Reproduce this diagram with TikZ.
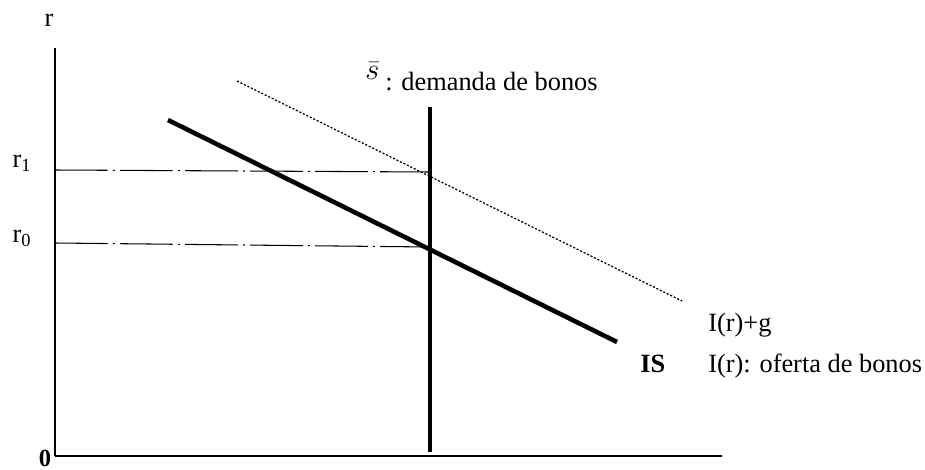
\documentclass[tikz,border=0pt]{standalone}
\usepackage{fontspec}
\setmainfont{Liberation Serif}

\tikzset{
    yaxis/.style={line width=0.6pt},
    xaxis/.style={line width=1.1pt},
    levelline/.style={line width=0.6pt, dash pattern=on 30pt off 3pt on 1pt off 3pt},
    demandline/.style={line width=1.8pt},
    isline/.style={line width=2.6pt},
    shiftline/.style={line width=0.7pt, dash pattern=on 1.2pt off 1pt},
    lbl/.style={font=\fontsize{15}{18}\selectfont, inner sep=0pt}
}

\begin{document}
\begin{tikzpicture}[x=0.2mm, y=-0.2mm]
\useasboundingbox (0,0) rectangle (925,470);

% ===== Axes =====
\coordinate (O)    at (55,456);
\coordinate (ytop) at (55,48);
\coordinate (xend) at (722,456);
\draw[yaxis] (O) -- (ytop);
\draw[xaxis] (O) -- (xend);
\node[lbl] (rlab) at (49,20) {r};
\node[lbl, anchor=base, font=\fontsize{14}{16}\selectfont\bfseries] (zerolab) at (45,466) {0};

% ===== Interest rate levels =====
\coordinate (r1a) at (55,170);
\coordinate (r1b) at (430,172);
\coordinate (r0a) at (55,243);
\coordinate (r0b) at (430,247);
\node[lbl] (r1lab) at (22,163) {r\textsubscript{1}};
\node[lbl] (r0lab) at (22,238) {r\textsubscript{0}};
\draw[levelline] (r1a) -- (r1b);
\draw[levelline] (r0a) -- (r0b);

% ===== Bond demand =====
\coordinate (stop) at (430,107);
\coordinate (sbot) at (430,452);
\draw[demandline] (stop) -- (sbot);
\node[lbl, anchor=base west, font=\fontsize{17}{18}\selectfont] (sbar) at (365,80) {$\bar{s}$};
\node[lbl, anchor=base west] (slab) at (385,91) {: demanda de bonos};

% ===== IS and shifted curve =====
\coordinate (is1) at (168,120);
\coordinate (is2) at (617,342);
\draw[isline] (is1) -- (is2);
\coordinate (ig1) at (237,81);
\coordinate (ig2) at (682,301);
\draw[shiftline] (ig1) -- (ig2);

\node[lbl, anchor=base west] (iglab) at (708,331) {I(r)+g};
\node[lbl, anchor=base west, font=\fontsize{15}{18}\selectfont\bfseries] (islab) at (640,372) {IS};
\node[lbl, anchor=base west] (irlab) at (708,372) {I(r): oferta de bonos};

\end{tikzpicture}
\end{document}
